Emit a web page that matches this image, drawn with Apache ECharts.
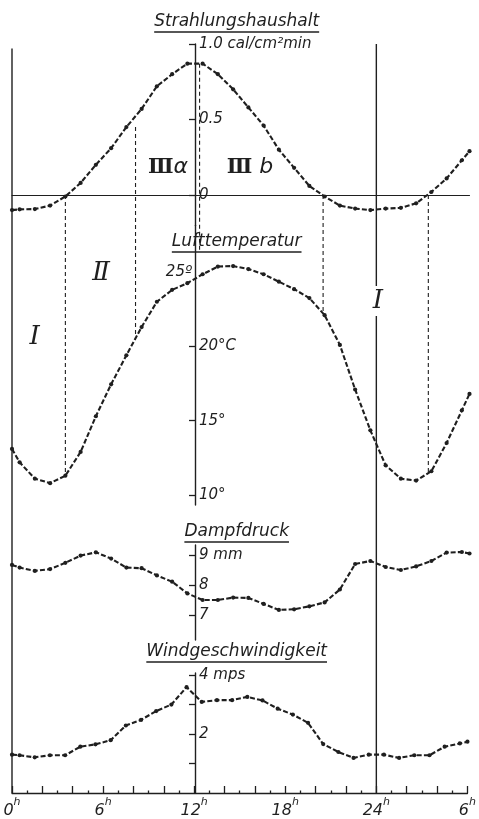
<!DOCTYPE html>
<html>
<head>
<meta charset="utf-8">
<script src="https://cdn.jsdelivr.net/npm/echarts@6/dist/echarts.min.js"></script>
<style>
  html, body { margin: 0; padding: 0; background: #fff; }
  #c { width: 479px; height: 819px; }
</style>
</head>
<body>
<div id="c"></div>
<script>
// Hourly means, plotted at mid-hour, plus the values where each trace meets the frame.
const hours = [0, 0.5, 1.5, 2.5, 3.5, 4.5, 5.5, 6.5, 7.5, 8.5, 9.5, 10.5, 11.5, 12.5, 13.5, 14.5,
               15.5, 16.5, 17.5, 18.5, 19.5, 20.5, 21.5, 22.5, 23.5, 24.5, 25.5, 26.5, 27.5, 28.5, 29.5, 30];

// Strahlungshaushalt, cal/cm² min
const radiation = [-0.10, -0.095, -0.093, -0.07, -0.01, 0.08, 0.20, 0.31, 0.45, 0.57, 0.72, 0.80, 0.87, 0.87, 0.80, 0.70,
                   0.58, 0.46, 0.30, 0.18, 0.06, -0.01, -0.07, -0.09, -0.10, -0.09, -0.085, -0.055, 0.02, 0.11, 0.23, 0.29];
// Lufttemperatur, °C
const temperature = [13.1, 12.2, 11.1, 10.8, 11.3, 12.9, 15.3, 17.45, 19.4, 21.3, 23.0, 23.8, 24.25, 24.85, 25.37, 25.4,
                     25.2, 24.85, 24.35, 23.85, 23.25, 22.1, 20.1, 17.1, 14.35, 12.0, 11.1, 10.97, 11.6, 13.5, 15.7, 16.8];
// Dampfdruck, mm
const vapour = [8.67, 8.58, 8.47, 8.53, 8.74, 8.98, 9.09, 8.88, 8.58, 8.56, 8.32, 8.11, 7.72, 7.5, 7.5, 7.58,
                7.57, 7.37, 7.17, 7.19, 7.29, 7.42, 7.85, 8.7, 8.8, 8.6, 8.5, 8.62, 8.8, 9.08, 9.1, 9.05];
// Windgeschwindigkeit, m/s
const wind = [1.30, 1.28, 1.21, 1.28, 1.28, 1.57, 1.65, 1.79, 2.29, 2.48, 2.78, 3.0, 3.59, 3.09, 3.15, 3.15,
              3.26, 3.14, 2.86, 2.66, 2.38, 1.66, 1.39, 1.19, 1.3, 1.3, 1.19, 1.28, 1.28, 1.57, 1.68, 1.74];

// Time axis
const hourTicks = [0, 6, 12, 18, 24, 30];
const hourTickText = ['0', '6', '12', '18', '24', '6'];

// Scales on the 12 h line
const radTicks = [0, 0.5, 1.0];
const radTickText = ['0', '0.5', '1.0 cal/cm²min'];
const tempTicks = [10, 15, 20];
const tempTickText = ['10°', '15°', '20°C'];
const tempTopTick = [25];
const tempTopText = ['25º'];
const vapTicks = [7, 8, 9];
const vapTickText = ['7', '8', '9 mm'];
const windTicks = [1, 2, 3, 4];
const windLabelTicks = [2, 4];
const windTickText = ['2', '4 mps'];

// Phase boundaries: hour, radiation value at the upper end, temperature at the lower end (null = on the trace)
const phaseHours = [3.5, 8.1, 12.3, 20.4, 27.3];
const phaseTop = [0, 0.45, null, 0, 0];
const phaseBottom = [null, null, 26.3, null, null];

const ink = '#1f1f1f';
const sans = '"DejaVu Sans", "Liberation Sans", sans-serif';
const serif = '"DejaVu Serif", "Liberation Serif", serif';

const W = 479;
const gridLeft = 12, gridRight = 9.5;
const plotW = W - gridLeft - gridRight;
const axisShift = -plotW * 12 / 30;   // value axes stand on the 12 h line

function pick(values, texts) {
  return v => {
    const i = values.findIndex(a => Math.abs(a - v) < 1e-6);
    return i < 0 ? '' : texts[i];
  };
}

const panels = [
  { top: 44,    height: 181.2, min: -0.2,  max: 1.0,   data: radiation,   ticks: radTicks,  labels: radTicks,       text: radTickText },
  { top: 225.2, height: 279.8, min: 9.33,  max: 28.15, data: temperature, ticks: tempTicks, labels: tempTicks,      text: tempTickText },
  { top: 545,   height: 95,    min: 6.167, max: 9.333, data: vapour,      ticks: vapTicks,  labels: vapTicks,       text: vapTickText },
  { top: 673,   height: 123,   min: 0,     max: 4.07,  data: wind,        ticks: windTicks, labels: windLabelTicks, text: windTickText }
];

const labelStyle = { color: ink, fontFamily: sans, fontStyle: 'italic', fontSize: 15 };

function valueAxis(i, p) {
  return {
    type: 'value', gridIndex: i, min: p.min, max: p.max, position: 'left', offset: axisShift,
    axisLine: { show: true, onZero: false, lineStyle: { color: ink, width: 1.4 } },
    axisTick: { show: true, customValues: p.ticks, length: 6, inside: false, lineStyle: { color: ink, width: 1.3 } },
    axisLabel: Object.assign({ show: true, inside: true, margin: 4, customValues: p.labels, formatter: pick(p.labels, p.text) }, labelStyle),
    splitLine: { show: false }
  };
}

const yAxes = [
  valueAxis(0, panels[0]),
  valueAxis(1, panels[1]),
  {
    type: 'value', gridIndex: 1, min: panels[1].min, max: panels[1].max, position: 'left', offset: axisShift,
    axisLine: { show: false }, axisTick: { show: false },
    axisLabel: Object.assign({ show: true, inside: false, margin: 3, customValues: tempTopTick, formatter: pick(tempTopTick, tempTopText) }, labelStyle),
    splitLine: { show: false }
  },
  valueAxis(2, panels[2]),
  valueAxis(3, panels[3])
];
const seriesAxis = [0, 1, 3, 4];

const xAxes = panels.map((p, i) => {
  const base = { type: 'value', gridIndex: i, min: 0, max: 30, splitLine: { show: false } };
  if (i === 0) {
    return Object.assign(base, {
      axisLine: { show: true, onZero: true, lineStyle: { color: ink, width: 1.1 } },
      axisTick: { show: false }, axisLabel: { show: false }
    });
  }
  if (i === 3) {
    return Object.assign(base, {
      interval: 2,
      axisLine: { show: true, onZero: false, lineStyle: { color: ink, width: 1.4 } },
      axisTick: { show: true, inside: true, length: 7, lineStyle: { color: ink, width: 1.3 } },
      minorTick: { show: true, splitNumber: 2, length: 2.5, lineStyle: { color: ink, width: 1.3 } },
      minorSplitLine: { show: false },
      axisLabel: {
        show: true, margin: 4, customValues: hourTicks,
        formatter: v => '{n|' + pick(hourTicks, hourTickText)(v) + '}{s|h}',
        rich: {
          n: { fontFamily: sans, fontStyle: 'italic', fontSize: 16, color: ink, lineHeight: 22, verticalAlign: 'bottom' },
          s: { fontFamily: sans, fontStyle: 'italic', fontSize: 11, color: ink, lineHeight: 12, verticalAlign: 'top' }
        }
      }
    });
  }
  return Object.assign(base, { show: false });
});

const chart = echarts.init(document.getElementById('c'), null, { renderer: 'canvas' });

chart.setOption({
  animation: false,
  backgroundColor: '#ffffff',
  grid: panels.map(p => ({ left: gridLeft, right: gridRight, top: p.top, height: p.height })),
  xAxis: xAxes,
  yAxis: yAxes,
  series: panels.map((p, i) => ({
    type: 'line',
    xAxisIndex: i,
    yAxisIndex: seriesAxis[i],
    data: hours.map((h, k) => [h, p.data[k]]),
    symbol: 'circle',
    symbolSize: 4.2,
    showSymbol: true,
    silent: true,
    z: 5,
    itemStyle: { color: ink, borderWidth: 0 },
    lineStyle: { color: ink, width: 2.1, type: [5, 2.2] }
  }))
});

// ---- frame, phase boundaries, titles and phase names ----
const toPx = (grid, h, v) => chart.convertToPixel({ gridIndex: grid }, [h, v]);

function traceAt(arr, h) {
  for (let k = 0; k < hours.length - 1; k++) {
    if (h >= hours[k] && h <= hours[k + 1]) {
      const t = (h - hours[k]) / (hours[k + 1] - hours[k]);
      return arr[k] + t * (arr[k + 1] - arr[k]);
    }
  }
  return arr[arr.length - 1];
}

const elements = [];

// full-height frame lines at 0 h and 24 h
const bottomY = toPx(3, 0, 0)[1];
[[0, 0.97], [24, 1.0]].forEach(([h, topVal]) => {
  const x = toPx(3, h, 0)[0];
  const y0 = toPx(0, h, topVal)[1];
  elements.push({ type: 'line', z: 2, silent: true, shape: { x1: x, y1: y0, x2: x, y2: bottomY },
    style: { stroke: ink, lineWidth: 1.4 } });
});

// dashed phase boundaries from the radiation panel down to the temperature trace
phaseHours.forEach((h, i) => {
  const topVal = phaseTop[i] === null ? traceAt(radiation, h) : phaseTop[i];
  const botVal = phaseBottom[i] === null ? traceAt(temperature, h) : phaseBottom[i];
  const p1 = toPx(0, h, topVal);
  const p2 = toPx(1, h, botVal);
  elements.push({ type: 'line', z: 1, silent: true, shape: { x1: p1[0], y1: p1[1], x2: p2[0], y2: p2[1] },
    style: { stroke: ink, lineWidth: 1.1, lineDash: [4, 3] } });
});

// underlined panel titles
const measure = document.createElement('canvas').getContext('2d');
const titleFont = 'italic 17px "DejaVu Sans", "Liberation Sans", sans-serif';
measure.font = titleFont;
const titleX = toPx(3, 14.8, 0)[0];
[
  ['Strahlungshaushalt', 32],
  ['Lufttemperatur', 252],
  ['Dampfdruck', 542],
  ['Windgeschwindigkeit', 662]
].forEach(([t, lineY]) => {
  const w = measure.measureText(t).width;
  elements.push({ type: 'text', z: 6, silent: true,
    style: { text: t, x: titleX, y: lineY - 2, align: 'center', verticalAlign: 'bottom', font: titleFont, fill: ink } });
  elements.push({ type: 'line', z: 6, silent: true,
    shape: { x1: titleX - w / 2, y1: lineY, x2: titleX + w / 2, y2: lineY },
    style: { stroke: ink, lineWidth: 1.3 } });
});

// phase names
const romanRich = {
  r: { fontFamily: serif, fontSize: 21, fontWeight: 'bold', color: ink },
  g: { fontFamily: sans, fontSize: 22, fontStyle: 'italic', color: ink }
};
function phaseName(text, grid, h, v, size, bg) {
  const p = toPx(grid, h, v);
  const style = { text: text, x: p[0], y: p[1], align: 'center', verticalAlign: 'middle', fill: ink,
    font: 'italic ' + size + 'px ' + serif, rich: romanRich };
  if (bg) { style.backgroundColor = '#ffffff'; style.padding = [2, 0]; }
  elements.push({ type: 'text', z: 7, silent: true, style: style });
}
phaseName('{r|Ⅲ}{g|α}', 0, 10.23, 0.185, 21);
phaseName('{r|Ⅲ}{g| b}', 0, 15.6, 0.185, 21);
phaseName('Ⅱ', 1, 5.84, 24.93, 26);
phaseName('Ⅰ', 1, 1.48, 20.63, 26);
phaseName('Ⅰ', 1, 24, 23.05, 26, true);

chart.setOption({ graphic: { elements: elements } });
</script>
</body>
</html>
